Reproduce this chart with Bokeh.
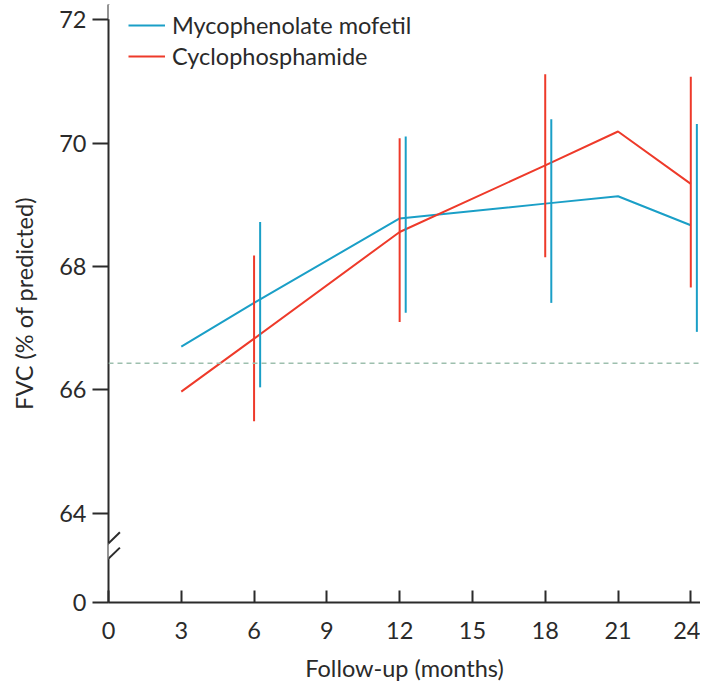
from bokeh.plotting import figure
from bokeh.models import (ColumnDataSource, FixedTicker, CustomJSTickFormatter, Arrow,
                          Span, Legend, LegendItem)
from bokeh.embed import file_html
from bokeh.resources import INLINE

# ---- data ----
months = [3, 6, 12, 18, 21, 24]
mmf_mean = [66.70, 67.41, 68.78, 69.02, 69.14, 68.67]
cyc_mean = [65.97, 66.83, 68.56, 69.64, 70.19, 69.34]

err_months = [6, 12, 18, 24]
mmf_upper = [68.72, 70.11, 70.39, 70.31]
mmf_lower = [66.04, 67.25, 67.41, 66.94]
cyc_upper = [68.18, 70.08, 71.12, 71.08]
cyc_lower = [65.49, 67.10, 68.15, 67.66]
mmf_err_offset = 0.25  # MMF error bars drawn slightly to the right

baseline = 66.43
zero_pos = 62.55  # axis position shown as "0" after the break
y_ticks = [zero_pos, 64, 66, 68, 70, 72]
x_ticks = [0, 3, 6, 9, 12, 15, 18, 21, 24]

BLUE = "#1a9fc7"
RED = "#ee3a2a"
AXIS = "#2b2b2b"
TEXT = "#2a2a2a"
FONT = "Lato"
FS = "23.5px"
Y_TOP = 72.25

p = figure(width=700, height=684, output_backend="svg", toolbar_location=None,
           x_range=(0, 24.4), y_range=(zero_pos, Y_TOP),
           min_border_left=108, min_border_right=0, min_border_top=4, min_border_bottom=80)
p.outline_line_color = None
p.grid.visible = False
p.background_fill_color = "white"

# baseline dashed line
p.add_layout(Span(location=baseline, dimension="width", line_color="#9dbfae",
                  line_width=1.5, line_dash="5 4"))

src_m = ColumnDataSource(dict(x=months, y=mmf_mean))
src_c = ColumnDataSource(dict(x=months, y=cyc_mean))
r_m = p.line("x", "y", source=src_m, line_color=BLUE, line_width=2)
r_c = p.line("x", "y", source=src_c, line_color=RED, line_width=2)

err_m = ColumnDataSource(dict(x=[m + mmf_err_offset for m in err_months], lo=mmf_lower, hi=mmf_upper))
err_c = ColumnDataSource(dict(x=err_months, lo=cyc_lower, hi=cyc_upper))
p.segment(x0="x", y0="lo", x1="x", y1="hi", source=err_c, line_color=RED, line_width=2)
p.segment(x0="x", y0="lo", x1="x", y1="hi", source=err_m, line_color=BLUE, line_width=2)

legend = Legend(items=[LegendItem(label="Mycophenolate mofetil", renderers=[r_m]),
                       LegendItem(label="Cyclophosphamide", renderers=[r_c])],
                location=(20, 532), border_line_color=None, background_fill_alpha=0,
                padding=0, margin=0, spacing=3, glyph_width=37, glyph_height=20,
                label_height=20, label_standoff=7,
                label_text_font=FONT, label_text_font_size=FS, label_text_color=TEXT)
p.add_layout(legend)

# axes
for ax in (p.xaxis[0], p.yaxis[0]):
    ax.axis_line_color = AXIS
    ax.axis_line_width = 2
    ax.major_tick_line_color = AXIS
    ax.major_tick_line_width = 2
    ax.minor_tick_line_color = None
    ax.major_label_text_font = FONT
    ax.major_label_text_font_size = FS
    ax.major_label_text_color = TEXT
    ax.axis_label_text_font = FONT
    ax.axis_label_text_font_size = FS
    ax.axis_label_text_font_style = "normal"
    ax.axis_label_text_color = TEXT

p.xaxis.ticker = FixedTicker(ticks=x_ticks)
p.xaxis.major_tick_in = 12
p.xaxis.major_tick_out = 0
p.xaxis.major_label_standoff = 19
p.xaxis.axis_label = "Follow-up (months)"
p.xaxis.axis_label_standoff = 12

p.yaxis.ticker = FixedTicker(ticks=y_ticks)
p.yaxis.formatter = CustomJSTickFormatter(code="return tick < 63 ? '0' : tick.toFixed(0);")
p.yaxis.major_tick_in = 0
p.yaxis.major_tick_out = 16
p.yaxis.major_label_standoff = 6
p.yaxis.axis_label = "FVC (% of predicted)"
p.yaxis.axis_label_standoff = 18

# hide the part of the y-axis line above 72
p.add_layout(Arrow(end=None, x_start=0, y_start=72.01, x_end=0, y_end=Y_TOP,
                   line_color="white", line_width=5))
# axis break: white gap + two slashes, and y-axis stub below x axis
p.add_layout(Arrow(end=None, x_start=0, y_start=63.25, x_end=0, y_end=63.51,
                   line_color="white", line_width=5))
p.add_layout(Arrow(end=None, x_start=-0.47, y_start=63.33, x_end=0.47, y_end=63.69,
                   line_color=AXIS, line_width=2))
p.add_layout(Arrow(end=None, x_start=-0.47, y_start=63.08, x_end=0.47, y_end=63.44,
                   line_color=AXIS, line_width=2))
p.add_layout(Arrow(end=None, x_start=0, y_start=zero_pos, x_end=0, y_end=zero_pos - 0.25,
                   line_color=AXIS, line_width=2))

open("out.html", "w").write(file_html(p, INLINE))
